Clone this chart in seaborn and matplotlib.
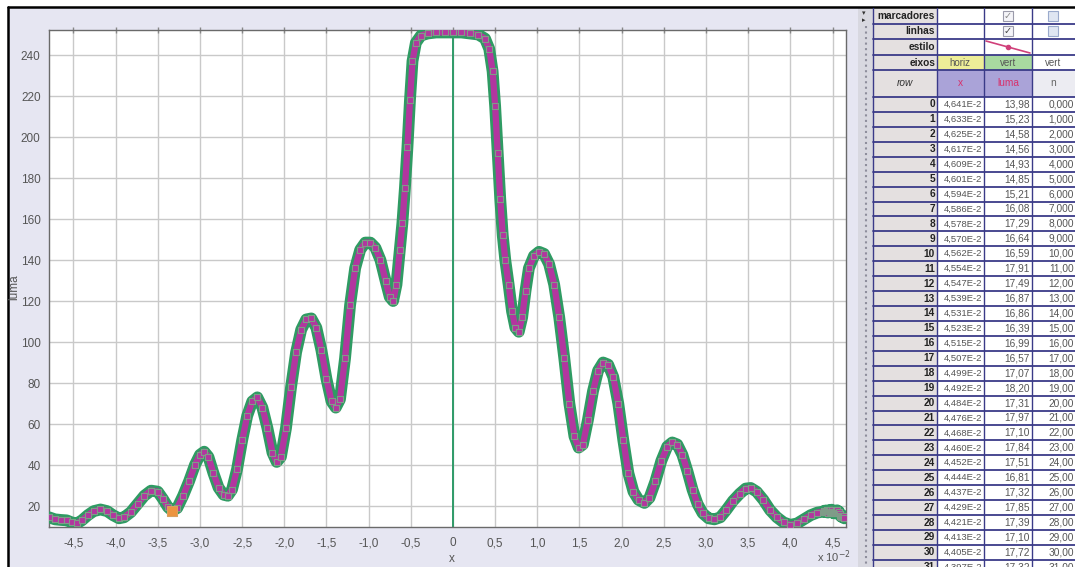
import matplotlib
matplotlib.use("Agg")
import matplotlib.pyplot as plt
import matplotlib.ticker as ticker
from matplotlib.patches import Rectangle
import numpy as np
import pandas as pd
import seaborn as sns

# luma profile, x in units of 1e-2
curve_x = [-4.79, -4.72, -4.65, -4.58, -4.52, -4.46, -4.40, -4.33, -4.26, -4.18,
           -4.10, -4.03, -3.96, -3.90, -3.82, -3.74, -3.66, -3.58, -3.50, -3.44,
           -3.38, -3.33, -3.27, -3.20, -3.13, -3.06, -3.00, -2.95, -2.90, -2.84,
           -2.78, -2.72, -2.67, -2.62, -2.56, -2.50, -2.44, -2.38, -2.32, -2.26,
           -2.20, -2.14, -2.09, -2.04, -1.98, -1.92, -1.86, -1.80, -1.74, -1.68,
           -1.62, -1.56, -1.50, -1.44, -1.39, -1.34, -1.28, -1.22, -1.16, -1.10,
           -1.04, -0.98, -0.92, -0.86, -0.80, -0.75, -0.71, -0.67, -0.63, -0.60,
           -0.57, -0.54, -0.51, -0.48, -0.44, -0.38, -0.30, -0.20, -0.10, 0.00,
           0.10, 0.20, 0.30, 0.38, 0.43, 0.47, 0.50, 0.53, 0.56, 0.59,
           0.62, 0.66, 0.70, 0.74, 0.78, 0.82, 0.86, 0.90, 0.96, 1.02,
           1.08, 1.14, 1.20, 1.26, 1.32, 1.38, 1.44, 1.49, 1.54, 1.60,
           1.66, 1.72, 1.78, 1.84, 1.90, 1.96, 2.02, 2.08, 2.14, 2.20,
           2.27, 2.33, 2.40, 2.47, 2.54, 2.60, 2.66, 2.72, 2.78, 2.84,
           2.90, 2.96, 3.03, 3.10, 3.17, 3.24, 3.32, 3.40, 3.47, 3.53,
           3.60, 3.68, 3.76, 3.84, 3.92, 4.00, 4.08, 4.16, 4.24, 4.32]
curve_luma = [14.5, 13.5, 13.2, 13.0, 12.0, 11.5, 13.0, 15.5, 17.5, 18.3,
              17.5, 15.5, 14.0, 14.5, 17.0, 21.0, 25.0, 27.5, 27.0, 23.5,
              19.5, 17.7, 19.0, 25.0, 32.0, 40.0, 45.0, 46.5, 44.0, 36.0,
              29.0, 25.5, 25.0, 28.0, 38.0, 52.0, 64.0, 71.0, 73.0, 68.0,
              58.0, 46.0, 41.5, 44.0, 58.0, 78.0, 95.0, 106.0, 111.0, 111.5,
              107.0, 96.0, 82.0, 71.0, 68.0, 72.0, 92.0, 118.0, 136.0, 145.0,
              148.5, 148.5, 146.0, 140.0, 130.0, 122.0, 120.0, 128.0, 145.0, 158.0,
              175.0, 195.0, 218.0, 237.0, 246.0, 249.5, 250.5, 251.0, 251.0, 251.0,
              251.0, 250.5, 250.0, 248.0, 243.0, 232.0, 215.0, 192.0, 170.0, 152.0,
              140.0, 128.0, 115.0, 107.0, 105.0, 112.0, 125.0, 136.0, 142.0, 144.0,
              143.0, 138.0, 128.0, 112.0, 92.0, 70.0, 54.0, 48.5, 50.0, 62.0,
              76.0, 86.0, 90.0, 89.0, 83.0, 70.0, 52.0, 36.0, 27.0, 23.0,
              21.5, 24.0, 32.0, 42.0, 49.0, 51.0, 50.0, 45.0, 37.0, 28.0,
              21.0, 16.5, 14.0, 13.5, 14.5, 18.0, 22.5, 26.0, 28.5, 28.8,
              27.0, 23.0, 18.0, 14.5, 12.0, 10.8, 11.5, 13.5, 15.5, 16.8]

# rows visible in the data table (row 0 is the rightmost point)
table_row = list(range(32))
table_x = [4.641, 4.633, 4.625, 4.617, 4.609, 4.601, 4.594, 4.586, 4.578, 4.570,
           4.562, 4.554, 4.547, 4.539, 4.531, 4.523, 4.515, 4.507, 4.499, 4.492,
           4.484, 4.476, 4.468, 4.460, 4.452, 4.444, 4.437, 4.429, 4.421, 4.413,
           4.405, 4.397]
table_luma = [13.98, 15.23, 14.58, 14.56, 14.93, 14.85, 15.21, 16.08, 17.29, 16.64,
              16.59, 17.91, 17.49, 16.87, 16.86, 16.39, 16.99, 16.57, 17.07, 18.20,
              17.31, 17.97, 17.10, 17.84, 17.51, 16.81, 17.32, 17.85, 17.39, 17.10,
              17.72, 17.32]
table_n = [float(r) for r in table_row]

# highlighted (selected) point
selected_x = [-3.33]
selected_luma = [17.7]

x_ticks = [-4.5, -4.0, -3.5, -3.0, -2.5, -2.0, -1.5, -1.0, -0.5, 0.0,
           0.5, 1.0, 1.5, 2.0, 2.5, 3.0, 3.5, 4.0, 4.5]
y_ticks = [20, 40, 60, 80, 100, 120, 140, 160, 180, 200, 220, 240]

#%%
sns.set_theme(style="white")
plt.rcParams["font.family"] = ["Liberation Sans", "DejaVu Sans"]

df = pd.DataFrame({"x": curve_x + table_x[::-1], "luma": curve_luma + table_luma[::-1]})
df = df.sort_values("x")

W, H = 1075, 567
fig = plt.figure(figsize=(W / 100, H / 100), dpi=100, facecolor="white")

# background / table layer in pixel coordinates
bg = fig.add_axes([0, 0, 1, 1], zorder=0)
bg.set_xlim(0, W)
bg.set_ylim(H, 0)
bg.axis("off")
bg.add_patch(Rectangle((9, 8), 849, 559, color="#e6e6f2", lw=0))
bg.add_patch(Rectangle((858, 8), 15, 559, color="#d8d8e0", lw=0))
bg.plot([866, 866], [26, H], ls=":", color="#8e8e9c", lw=1.5)
bg.text(864, 14, "▾", fontsize=5, color="#333", ha="center", va="center")
bg.text(864, 21, "▸", fontsize=5, color="#333", ha="center", va="center")
bg.plot([8, W], [7, 7], color="black", lw=1.8)
bg.plot([8, 8], [7, H], color="black", lw=1.8)

# ---- table ----
cols = [873, 937, 984, 1032, 1090]
head = [8, 24, 39, 55, 70, 97]
row_h = 14.93
tfont = ["Liberation Sans", "DejaVu Sans"]
navy = "#3a3a88"
tsize = 7.3


def fmt4(v):
    if v == 0:
        return "0,000"
    dec = max(4 - (int(np.floor(np.log10(abs(v)))) + 1), 0)
    return f"{v:.{dec}f}".replace(".", ",")


bg.add_patch(Rectangle((cols[0], 8), cols[1] - cols[0], H, color="#e4e0e0", lw=0))
bg.add_patch(Rectangle((cols[1], 8), W - cols[1], H, color="white", lw=0))
for lab, y0, y1 in zip(["marcadores", "linhas", "estilo", "eixos"], head[:-2], head[1:-1]):
    bg.text(cols[1] - 2, (y0 + y1) / 2, lab, fontsize=tsize, fontweight="bold",
            family=tfont, ha="right", va="center", color="#222")
# eixos row
bg.add_patch(Rectangle((cols[1], head[3]), cols[2] - cols[1], head[4] - head[3], color="#eeee98", lw=0))
bg.add_patch(Rectangle((cols[2], head[3]), cols[3] - cols[2], head[4] - head[3], color="#a8d9a0", lw=0))
for lab, xc in zip(["horiz", "vert", "vert"], [960, 1008, 1053]):
    bg.text(xc, (head[3] + head[4]) / 2, lab, fontsize=7, family=tfont,
            ha="center", va="center", color="#555")
# header row
bg.add_patch(Rectangle((cols[1], head[4]), cols[3] - cols[1], head[5] - head[4], color="#aaa3d8", lw=0))
bg.add_patch(Rectangle((cols[3], head[4]), W - cols[3], head[5] - head[4], color="#ececf2", lw=0))
bg.text(905, (head[4] + head[5]) / 2, "row", fontsize=tsize, style="italic", family=tfont,
        ha="center", va="center", color="#333")
for lab, xc, c in zip(["x", "luma", "n"], [960, 1008, 1053], ["#d8306a", "#d8306a", "#666"]):
    bg.text(xc, (head[4] + head[5]) / 2, lab, fontsize=tsize, family=tfont,
            ha="center", va="center", color=c)
# checkboxes and style sample
for yc in [16, 31]:
    bg.add_patch(Rectangle((1003, yc - 5), 10, 10, facecolor="#f4f4f8", edgecolor="#9a9aaa", lw=0.8))
    bg.text(1008, yc, "✓", fontsize=7, family=["DejaVu Sans"], ha="center", va="center",
            color="#444" if yc > 20 else "#888")
    bg.add_patch(Rectangle((1048, yc - 5), 10, 10, facecolor="#dfe6f2", edgecolor="#9aaacc", lw=0.8))
bg.plot([986, 1030], [41, 53], color="#d0407a", lw=1.2)
bg.plot([1008], [47], marker="o", ms=3, color="#d0407a")

# data rows
for i, (r, xv, lv, nv) in enumerate(zip(table_row, table_x, table_luma, table_n)):
    yc = head[5] + (i + 0.5) * row_h
    bg.text(cols[1] - 2, yc, str(r), fontsize=tsize, fontweight="bold", family=tfont,
            ha="right", va="center", color="#222")
    bg.text(cols[2] - 2, yc, f"{xv:.3f}".replace(".", ",") + "E-2", fontsize=6.8,
            family=tfont, ha="right", va="center", color="#555")
    bg.text(cols[3] - 2, yc, fmt4(lv), fontsize=tsize, family=tfont, ha="right", va="center", color="#555")
    bg.text(1074, yc, fmt4(nv), fontsize=tsize, family=tfont, ha="right", va="center", color="#555")

for yb in head[1:] + [head[5] + k * row_h for k in range(1, 33)]:
    bg.plot([cols[0], W], [yb, yb], color=navy, lw=1.3)
for xb in cols[:4]:
    bg.plot([xb, xb], [8, H], color=navy, lw=1.0)

# ---- plot ----
ax = fig.add_axes([49 / W, 1 - 527 / H, (846 - 49) / W, (527 - 30) / H], zorder=1)
ax.set_facecolor("white")

ax.axvline(0, color="#2e9a68", lw=1.4, zorder=2)
sns.lineplot(data=df, x="x", y="luma", color="#2f9b63", lw=8.5, ax=ax,
             estimator=None, sort=False, zorder=3)
sns.lineplot(data=df, x="x", y="luma", color="#b2369f", lw=4.5, ax=ax,
             estimator=None, sort=False, zorder=4)
sns.scatterplot(data=df, x="x", y="luma", marker="s", s=22, color="#b2369f",
                edgecolor="#7f9c88", linewidth=0.8, ax=ax, zorder=5)
ax.scatter(selected_x, selected_luma, marker="s", s=45, color="#ec9440",
           edgecolor="#d8a060", lw=0.8, zorder=6)

ax.set_xlim(-4.79, 4.66)
ax.set_ylim(9.76, 252.2)
ax.set_xticks(x_ticks)
ax.set_yticks(y_ticks)
ax.xaxis.set_major_formatter(ticker.FuncFormatter(
    lambda v, _: "0" if abs(v) < 1e-9 else f"{v:.1f}".replace(".", ",")))
ax.grid(True, color="#c9c9c9", lw=1)
ax.set_axisbelow(True)
for s in ax.spines.values():
    s.set_color("#6a6a6a")
    s.set_linewidth(1)
ax.tick_params(axis="both", which="major", labelsize=8.5, labelcolor="#555555",
               color="#888888", length=3, width=1, direction="out", pad=3)
ax.tick_params(axis="x", pad=5, top=True, direction="inout", length=5)
ax.set_xlabel("x", fontsize=8.5, color="#555555")
ax.set_ylabel("luma", fontsize=8.5, color="#555555")
ax.xaxis.set_label_coords(403 / 797, -0.052)
ax.yaxis.set_label_coords(-0.036, 0.483)
fig.text(851 / W, 1 - 557 / H, r"x 10$^{-2}$", fontsize=8, color="#555555",
         ha="right", va="center")

fig.savefig("out.png", dpi=100, facecolor="white")
